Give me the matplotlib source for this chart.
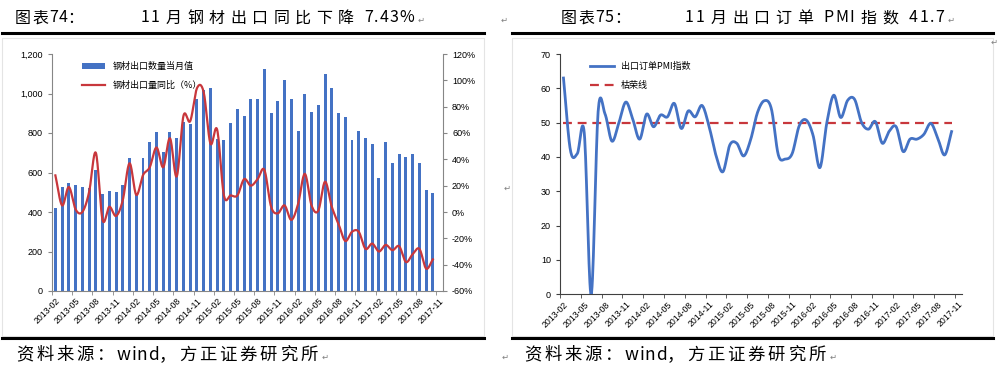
import numpy as np
import matplotlib.pyplot as plt
from matplotlib.lines import Line2D
from matplotlib.patches import Rectangle
from matplotlib.ticker import FuncFormatter

plt.rcParams['font.family'] = ['Liberation Sans', 'Noto Sans CJK SC', 'DejaVu Sans']

# 58 monthly slots 2013-02 .. 2017-11, data for the first 57
n_slots = 58
tick_labels = ['2013-02', '2013-05', '2013-08', '2013-11', '2014-02', '2014-05', '2014-08',
               '2014-11', '2015-02', '2015-05', '2015-08', '2015-11', '2016-02', '2016-05',
               '2016-08', '2016-11', '2017-02', '2017-05', '2017-08', '2017-11']

# steel exports, monthly volume (10k t)
steel_qty = [421, 527, 549, 539, 527, 520, 612, 490, 505, 499, 536, 671,
             485, 671, 754, 806, 705, 803, 774, 855, 848, 970, 1017, 1029,
             770, 767, 852, 919, 887, 973, 973, 1124, 901, 960, 1066, 973,
             811, 997, 908, 941, 1097, 1029, 901, 879, 766, 811, 777, 742,
             571, 754, 647, 696, 681, 693, 647, 509, 494]
# steel exports YoY (%)
steel_yoy = [27.8, 5, 19, 2, 0, 15, 45, -6, 4, -3, 9, 37,
             13, 28, 34, 49, 34, 56, 27, 73, 69, 94, 91, 52,
             62.5, 12.6, 12.6, 12.6, 25, 20, 25, 32, 4, -1, 5, -6,
             6, 29, 5, 1, 23, 4, -9, -22, -15, -15, -28, -24,
             -30, -25, -29, -26, -38, -32, -28, -43, -36]
# export orders PMI
pmi = [63, 42, 41, 47, 0, 53.2, 52.5, 44.6, 50, 56, 51, 45.2,
       52.5, 48.8, 52.2, 51.7, 55.6, 48.3, 53.4, 51.7, 55, 49, 40.5, 35.7,
       43.5, 44, 40.3, 45, 53, 56.4, 54, 40.6, 39.4, 41, 49, 50.8,
       46.4, 36.9, 50, 58, 51.5, 56.5, 56.8, 50.1, 48.1, 50.3, 44, 47.5,
       48.8, 41.6, 45.2, 45.2, 46.6, 49.8, 45.5, 40.6, 47.4]
threshold = 50

BLUE = '#4472c4'
RED = '#c8373c'
CJK = ['Noto Sans CJK SC', 'DejaVu Sans']
W, H = 998, 376


def smooth(y, n=16):
    # Catmull-Rom curve through the points (like Excel's smoothed line)
    y = np.asarray(y, float)
    x = np.arange(len(y), dtype=float)
    px = np.concatenate([[2 * x[0] - x[1]], x, [2 * x[-1] - x[-2]]])
    py = np.concatenate([[2 * y[0] - y[1]], y, [2 * y[-1] - y[-2]]])
    t = np.linspace(0, 1, n, endpoint=False)
    xs, ys = [], []
    for i in range(1, len(px) - 2):
        for p, out in ((px, xs), (py, ys)):
            p0, p1, p2, p3 = p[i - 1], p[i], p[i + 1], p[i + 2]
            out.extend(0.5 * (2 * p1 + (-p0 + p2) * t + (2 * p0 - 5 * p1 + 4 * p2 - p3) * t ** 2
                              + (-p0 + 3 * p1 - 3 * p2 + p3) * t ** 3))
    xs.append(x[-1])
    ys.append(y[-1])
    return np.array(xs), np.array(ys)


def fx(x):
    return x / W


def fy(y):
    return 1 - y / H


def hline(x0, x1, y, lw=2.2, color='black'):
    fig.add_artist(Line2D([fx(x0), fx(x1)], [fy(y), fy(y)], lw=lw, color=color,
                          transform=fig.transFigure))


def spaced(x, y, s, size, gap, agap=0.5):
    # Word-style spacing: CJK characters get extra room, latin ones stay tight
    r = fig.canvas.get_renderer()
    for ch in s:
        if ch == ' ':
            x += size * 0.45
            continue
        t = fig.text(fx(x), fy(y), ch, family=CJK, fontsize=size, va='center', ha='left')
        x += t.get_window_extent(r).width + (gap if ord(ch) > 0x2e80 else agap)
    return x


def mark(x, y):
    # Word paragraph mark
    fig.text(fx(x), fy(y), '↵', family=['DejaVu Sans'], fontsize=6, color='#7f7f7f',
             va='center', ha='left')


def setup_xaxis(ax, spine_color):
    ax.set_xlim(-0.5, n_slots - 0.5)
    ax.set_xticks(range(0, n_slots, 3))
    ax.set_xticklabels(tick_labels, rotation=45, ha='right', rotation_mode='anchor', fontsize=6.3)
    ax.set_xticks(np.arange(-0.5, n_slots - 1, 3), minor=True)
    ax.tick_params(axis='x', which='major', length=0, pad=4)
    ax.tick_params(axis='x', which='minor', length=3, color=spine_color, direction='out')


fig = plt.figure(figsize=(W / 100, H / 100), dpi=100)

# ---------------- left chart ----------------
ax1 = fig.add_axes([fx(52), fy(291), fx(391), 237 / H])
x = np.arange(len(steel_qty))
ax1.bar(x, steel_qty, width=0.44, color=BLUE, label='钢材出口数量当月值', zorder=2)
ax1.set_ylim(0, 1200)
ax1.set_yticks(range(0, 1201, 200))
ax1.yaxis.set_major_formatter(FuncFormatter(lambda v, p: f'{int(v):,}'))
setup_xaxis(ax1, '#868686')
ax1.tick_params(axis='y', labelsize=6.5, length=3, color='#868686')
for s in ['top', 'right']:
    ax1.spines[s].set_visible(False)
for s in ['left', 'bottom']:
    ax1.spines[s].set_color('#868686')

ax2 = ax1.twinx()
sx, sy = smooth(steel_yoy)
ax2.plot(sx, sy, color=RED, lw=1.6, label='钢材出口量同比（%）', zorder=3)
ax2.set_ylim(-60, 120)
ax2.set_yticks(range(-60, 121, 20))
ax2.yaxis.set_major_formatter(FuncFormatter(lambda v, p: f'{int(v)}%'))
ax2.tick_params(axis='y', labelsize=6.5, length=3, color='#868686')
for s in ['top', 'left', 'bottom']:
    ax2.spines[s].set_visible(False)
ax2.spines['right'].set_color('#868686')
h1, l1 = ax1.get_legend_handles_labels()
h2, l2 = ax2.get_legend_handles_labels()
ax2.legend(h1 + h2, l1 + l2, loc='upper left', bbox_to_anchor=(0.055, 1.0), frameon=False,
           prop={'family': CJK, 'size': 6.5}, handlelength=2.6, labelspacing=1.1)

# ---------------- right chart ----------------
ax3 = fig.add_axes([fx(560), fy(294.3), fx(402), 240.3 / H])
px_, py_ = smooth(pmi)
ax3.plot(px_, py_, color=BLUE, lw=2.0, label='出口订单PMI指数', zorder=3)
ax3.plot(np.arange(len(pmi)), [threshold] * len(pmi), color=RED, lw=1.6,
         dashes=(4, 2.6), label='枯荣线', zorder=2)
ax3.set_ylim(0, 70)
ax3.set_yticks(range(0, 71, 10))
setup_xaxis(ax3, '#404040')
ax3.tick_params(axis='y', labelsize=6.5, length=3, color='#404040')
for s in ['top', 'right']:
    ax3.spines[s].set_visible(False)
for s in ['left', 'bottom']:
    ax3.spines[s].set_color('#404040')
ax3.legend(loc='upper left', bbox_to_anchor=(0.055, 1.0), frameon=False,
           prop={'family': CJK, 'size': 6.5}, handlelength=2.6, labelspacing=1.1)

# ---------------- page text and rules ----------------
fig.add_artist(Rectangle((fx(2), fy(336)), fx(482), (336 - 38) / H, fill=False,
                         ec='#e4e4e4', lw=0.8, transform=fig.transFigure))
fig.add_artist(Rectangle((fx(512), fy(336)), fx(481), (336 - 38) / H, fill=False,
                         ec='#e4e4e4', lw=0.8, transform=fig.transFigure))

spaced(15, 18, '图表74：', 11.5, 1)
end = spaced(141, 18, '11 月钢材出口同比下降 7.43%', 11.5, 5.5, 1)
mark(end + 2, 20)
mark(501, 20)
spaced(561, 18, '图表75：', 11.5, 1)
end = spaced(685, 18, '11 月出口订单 PMI 指数 41.7', 11.5, 5.5, 1.5)
mark(end + 2, 20)
hline(2, 484, 33)
hline(512, 993, 33)
hline(2, 484, 338)
hline(512, 993, 338)
end = spaced(16, 355, '资料来源：wind，方正证券研究所', 12.5, 2.8)
mark(end + 1, 357)
mark(502, 357)
end = spaced(524, 355, '资料来源：wind，方正证券研究所', 12.5, 2.8)
mark(end + 1, 357)
mark(504, 188)
mark(991, 42)

fig.savefig('out.png', dpi=100)
